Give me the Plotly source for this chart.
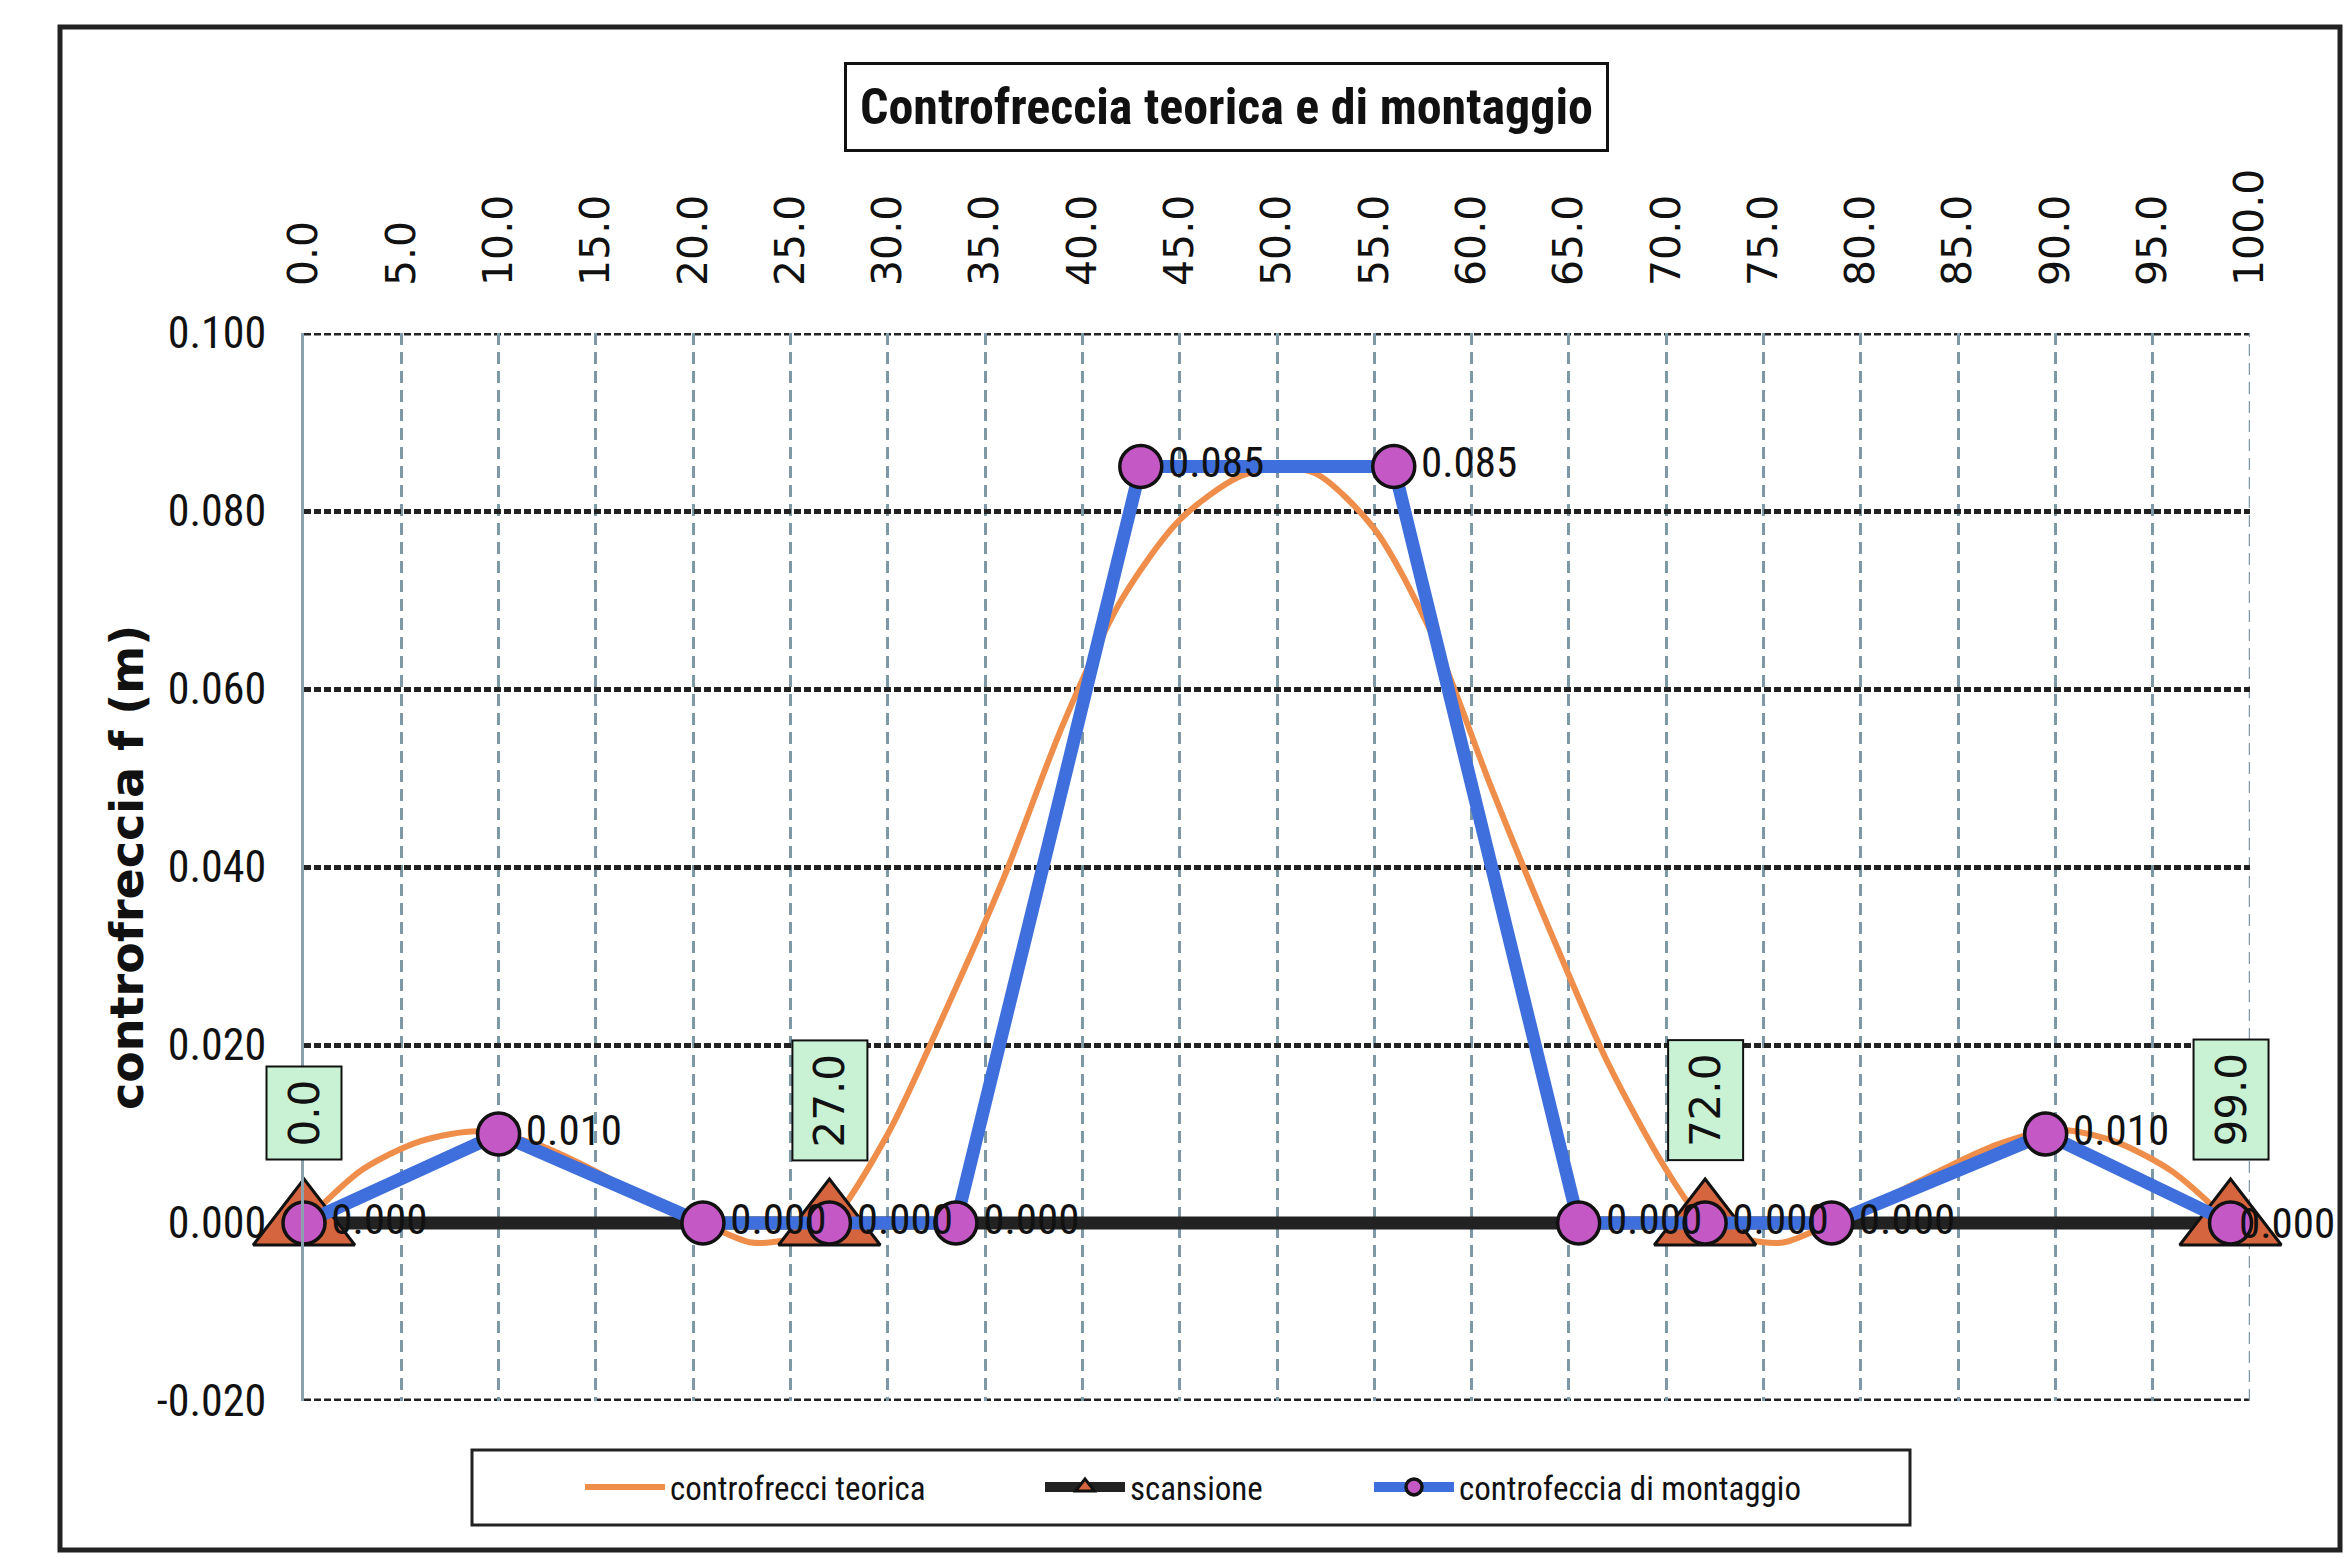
import plotly.graph_objects as go

# ---------------- data ----------------
x_teorica = [0, 3, 6, 9, 12, 15, 18, 20.5, 23, 25, 27, 30, 33, 36, 39, 42, 45, 48, 50, 52,
             55, 58, 61, 64, 67, 70, 72, 74, 76, 78.5, 81, 84, 87, 90, 93, 96, 99]
y_teorica = [0.000, 0.0060, 0.0092, 0.0103, 0.0088, 0.0058, 0.0022, 0.000, -0.0022, -0.0018,
             0.000, 0.010, 0.024, 0.039, 0.056, 0.070, 0.079, 0.0838, 0.0848, 0.0842,
             0.078, 0.066, 0.049, 0.033, 0.018, 0.006, 0.000, -0.0018, -0.0022, 0.000,
             0.0025, 0.0058, 0.0088, 0.0105, 0.0092, 0.0058, 0.000]

x_scansione = [0, 27, 72, 99]
y_scansione = [0.0, 0.0, 0.0, 0.0]

x_montaggio = [0, 10, 20.5, 27, 33.5, 43, 56, 65.5, 72, 78.5, 89.5, 99]
y_montaggio = [0.000, 0.010, 0.000, 0.000, 0.000, 0.085, 0.085, 0.000, 0.000, 0.000, 0.010, 0.000]

x_ticks = [0, 5, 10, 15, 20, 25, 30, 35, 40, 45, 50, 55, 60, 65, 70, 75, 80, 85, 90, 95, 100]
y_ticks = [-0.020, 0.000, 0.020, 0.040, 0.060, 0.080, 0.100]

title_text = "Controfreccia teorica e di montaggio"
y_title = "controfreccia f (m)"
names = ["controfrecci teorica", "scansione", "controfeccia di montaggio"]

NARROW = "Liberation Sans Narrow, Arial Narrow, Roboto Condensed, Lato, sans-serif"
WIDE = "DejaVu Sans, Verdana, sans-serif"

W, H = 2349, 1557
L, R, T, B = 304, 99, 333, 156
PW, PH = W - L - R, H - T - B


def px_x(p):
    return (p - L) / PW


def px_y(p):
    return (H - B - p) / PH


fig = go.Figure()

fig.add_trace(go.Scatter(
    x=x_teorica, y=y_teorica, name=names[0], mode="lines", legend="legend",
    line=dict(color="#ef8d4a", width=6, shape="spline", smoothing=0.8),
))

fig.add_trace(go.Scatter(
    x=x_scansione, y=y_scansione, name=names[1], mode="lines+markers", legend="legend2",
    line=dict(color="#222222", width=13),
    marker=dict(symbol="triangle-up", size=88, color="#d4653f",
                line=dict(color="#111111", width=3)),
    cliponaxis=False,
))

labels_m = [f"{v:.3f}" for v in y_montaggio]
fig.add_trace(go.Scatter(
    x=x_montaggio, y=y_montaggio, name=names[2], mode="lines+markers+text", legend="legend3",
    line=dict(color="#3e6fdc", width=13),
    marker=dict(symbol="circle", size=42, color="#c459c6",
                line=dict(color="#111111", width=3.5)),
    text=labels_m[:-1] + [""],
    textposition="middle right",
    textfont=dict(family=NARROW, size=43, color="#111111"),
    cliponaxis=False,
))
# last label sits partly over its marker (as in the original)
fig.add_annotation(
    x=x_montaggio[-1], y=y_montaggio[-1], xref="x", yref="y", text=labels_m[-1],
    showarrow=False, xanchor="left", yanchor="middle", xshift=6,
    font=dict(family=NARROW, size=43, color="#111111"),
)

# green boxed labels of the scansione points
for xv, yv in zip(x_scansione, y_scansione):
    fig.add_annotation(
        x=xv, y=yv, xref="x", yref="y", text=f"{xv:.1f}", showarrow=False,
        textangle=-90, yanchor="bottom", yshift=62,
        font=dict(family=WIDE, size=42, color="#111111"),
        bgcolor="#c9f1d4", bordercolor="#111111", borderwidth=2, borderpad=12,
    )

# title box
fig.add_annotation(
    x=px_x(1226), y=px_y(107), xref="paper", yref="paper", text=title_text,
    showarrow=False, xanchor="center", yanchor="middle",
    font=dict(family=NARROW, size=50, color="#111111", weight="bold"),
    bordercolor="#111111", borderwidth=3, borderpad=13, bgcolor="white",
)

# y axis title
fig.add_annotation(
    x=px_x(127), y=px_y(868), xref="paper", yref="paper", text=y_title,
    showarrow=False, textangle=-90, xanchor="center", yanchor="middle",
    font=dict(family=WIDE, size=46, color="#111111", weight="bold"),
)

# outer frame and legend frame
fig.add_shape(type="rect", xref="paper", yref="paper",
              x0=px_x(60), x1=px_x(2340), y0=px_y(1550), y1=px_y(27),
              line=dict(color="#222222", width=5), layer="below")
fig.add_shape(type="rect", xref="paper", yref="paper",
              x0=px_x(472), x1=px_x(1910), y0=px_y(1525), y1=px_y(1450),
              line=dict(color="#222222", width=3), layer="below")

# gridlines at the range edges (plotly skips them)
for yv in (y_ticks[0], y_ticks[-1]):
    fig.add_shape(type="line", xref="x", yref="y", x0=x_ticks[0], x1=x_ticks[-1], y0=yv, y1=yv,
                  line=dict(color="#222222", width=5, dash="7px,3px"), layer="below")
fig.add_shape(type="line", xref="x", yref="y", x0=x_ticks[-1], x1=x_ticks[-1],
              y0=y_ticks[0], y1=y_ticks[-1],
              line=dict(color="#7f98a6", width=2.5, dash="12px,7px"), layer="below")

leg_common = dict(orientation="h", yanchor="middle", xanchor="left",
                  font=dict(family=NARROW, size=33, color="#111111"),
                  bgcolor="rgba(0,0,0,0)", itemwidth=80)
leg_y = px_y(1487)

fig.update_layout(
    width=W, height=H,
    margin=dict(l=L, r=R, t=T, b=B, autoexpand=False),
    paper_bgcolor="white", plot_bgcolor="white",
    showlegend=True,
    legend=dict(x=px_x(580), y=leg_y, **leg_common),
    legend2=dict(x=px_x(1040), y=leg_y, **leg_common),
    legend3=dict(x=px_x(1369), y=leg_y, **leg_common),
    xaxis=dict(
        range=[0, 100], side="top", tickmode="array", tickvals=x_ticks,
        ticktext=[f"{v:.1f}" for v in x_ticks], tickangle=-90,
        tickfont=dict(family=WIDE, size=41, color="#111111"),
        ticklabelstandoff=46, ticks="",
        showgrid=True, gridcolor="#7f98a6", gridwidth=2.5, griddash="12px,7px",
        zeroline=False, showline=False,
    ),
    yaxis=dict(
        range=[-0.020, 0.100], tickmode="array", tickvals=y_ticks,
        ticktext=[f"{v:.3f}" for v in y_ticks],
        tickfont=dict(family=NARROW, size=44, color="#111111"),
        ticklabelstandoff=26, ticks="",
        showgrid=True, gridcolor="#222222", gridwidth=5, griddash="7px,3px",
        zeroline=False, showline=True, linecolor="#8aa2b0", linewidth=3,
    ),
)

fig.write_html("out.html", config={"displayModeBar": False},
               post_script="document.body.style.margin='0';")
